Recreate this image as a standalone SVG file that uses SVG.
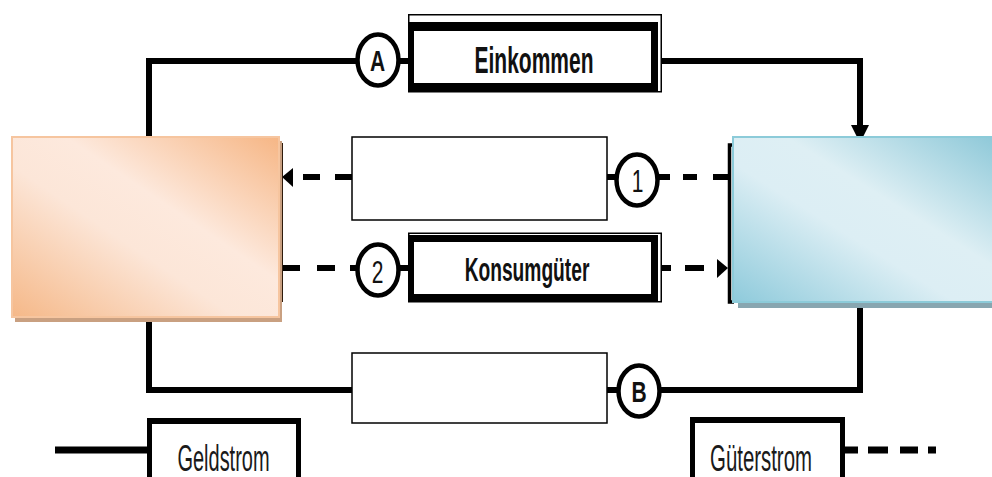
<svg xmlns="http://www.w3.org/2000/svg" width="992" height="477" viewBox="0 0 992 477">
<defs>
<linearGradient id="gOrange" x1="0" y1="1" x2="1" y2="0">
<stop offset="0" stop-color="#f5b888"/>
<stop offset="0.42" stop-color="#fce6d8"/>
<stop offset="0.6" stop-color="#fde9dd"/>
<stop offset="1" stop-color="#f6b685"/>
</linearGradient>
<linearGradient id="gBlue" x1="0" y1="1" x2="1" y2="0">
<stop offset="0" stop-color="#8ecadb"/>
<stop offset="0.42" stop-color="#dceef4"/>
<stop offset="0.6" stop-color="#deeff4"/>
<stop offset="1" stop-color="#8dc8d8"/>
</linearGradient>
<style>
.money{fill:none;stroke:#000;stroke-width:6}
.goods{fill:none;stroke:#000;stroke-width:6}
.thin{fill:#fff;stroke:#000;stroke-width:1.5}
.blk{fill:#000}
.wht{fill:#fff}
.circ{fill:#fff;stroke:#000;stroke-width:4.5}
.lbl{font-family:"Liberation Sans",Arial,sans-serif;font-size:21px;font-weight:bold;fill:#111;text-anchor:middle}
.leg{font-family:"Liberation Sans",Arial,sans-serif;font-size:20px;fill:#1a1a1a;text-anchor:middle}
.num{font-family:"Liberation Sans",Arial,sans-serif;font-size:21px;font-weight:bold;fill:#111;text-anchor:middle}
</style>
</defs>
<rect width="992" height="477" fill="#fff"/>

<g id="connectors">
<path class="money" d="M149,137 V61 H356"/>
<path class="money" d="M400,61 H409"/>
<path class="money" d="M661,61 H860 V127"/>
<polygon class="blk" points="851,125 869,125 863,137 857,137"/>
<path class="money" d="M860,302 V390 H661"/>
<path class="money" d="M618,390 H607"/>
<path class="money" d="M352,390 H149 V320"/>
<line x1="140" y1="319.5" x2="158" y2="319.5" stroke="#3b2412" stroke-width="3"/>
<path class="goods" d="M303,177 H320 M335,177 H352 M607,177 H617 M659,177 H670 M683,177 H697 M713,177 H729"/>
<polygon class="blk" points="282,177 293,168 293,187"/>
<path class="goods" d="M283,268 H300 M317,268 H335 M350,268 H357 M399,268 H409 M661,268 H671 M685,268 H704"/>
<polygon class="blk" points="728,268 717,259 717,278"/>
<line x1="281.5" y1="143" x2="281.5" y2="302" stroke="#2e1b0c" stroke-width="3"/>
<path d="M734,145 H729.5 V302 H734" fill="none" stroke="#000" stroke-width="3.5"/>
<path d="M55,450 H147" fill="none" stroke="#000" stroke-width="7"/>
<path d="M845,450 H858 M868,450 H888 M900,450 H918 M928,450 H936" fill="none" stroke="#000" stroke-width="7"/>
</g>

<g id="node-left">
<rect x="15" y="141" width="267" height="181" fill="#c9a081"/>
<rect x="12" y="137" width="267" height="180" fill="url(#gOrange)" stroke="#f6c59f" stroke-width="2"/>
</g>

<g id="node-right">
<rect x="738" y="296" width="260" height="12" fill="#88a6b0"/>
<rect x="733" y="137" width="265" height="165" fill="url(#gBlue)" stroke="#8ccbd9" stroke-width="2"/>
</g>

<g id="box-einkommen">
<rect class="thin" x="408.75" y="14.75" width="252.5" height="77"/>
<rect class="blk" x="408" y="22" width="250" height="70"/>
<rect class="wht" x="414" y="31" width="237" height="52"/>
<text class="lbl" transform="translate(534,73) scale(1,1.75)">Einkommen</text>
</g>

<g id="box-1">
<rect class="thin" x="352" y="137" width="255" height="83"/>
</g>

<g id="box-konsumgueter">
<rect class="thin" x="408.75" y="233.25" width="252.5" height="68.5"/>
<rect class="blk" x="408" y="235" width="250" height="67"/>
<rect class="wht" x="414" y="242" width="237" height="52"/>
<text class="lbl" style="font-size:19.2px" transform="translate(527,281) scale(1,1.72)">Konsumgüter</text>
</g>

<g id="box-B">
<rect class="thin" x="352" y="353" width="255" height="70"/>
</g>

<g id="circle-A">
<ellipse class="circ" cx="378" cy="60" rx="20.5" ry="25.5"/>
<text class="num" transform="translate(377.5,71) scale(1,1.4)">A</text>
</g>

<g id="circle-1">
<ellipse class="circ" cx="637" cy="180" rx="20.5" ry="25.5"/>
<text class="num" style="font-weight:normal" transform="translate(637.5,191.5) scale(1,1.45)">1</text>
</g>

<g id="circle-2">
<ellipse class="circ" cx="378" cy="270" rx="20.5" ry="25.5"/>
<text class="num" style="font-weight:normal" transform="translate(377.5,282.5) scale(1,1.45)">2</text>
</g>

<g id="circle-B">
<ellipse class="circ" cx="639" cy="391" rx="20.5" ry="25.5"/>
<text class="num" transform="translate(639,402) scale(1,1.4)">B</text>
</g>

<g id="legend-geldstrom">
<rect class="blk" x="147" y="418" width="154" height="70"/>
<rect class="wht" x="152" y="424" width="144" height="60"/>
<text class="leg" transform="translate(223.5,471) scale(1,1.8)">Geldstrom</text>
</g>

<g id="legend-gueterstrom">
<rect class="blk" x="690" y="417" width="155" height="70"/>
<rect class="wht" x="695" y="423" width="145" height="60"/>
<text class="leg" style="font-size:20.4px" transform="translate(761,471) scale(1,1.8)">Güterstrom</text>
</g>
</svg>
